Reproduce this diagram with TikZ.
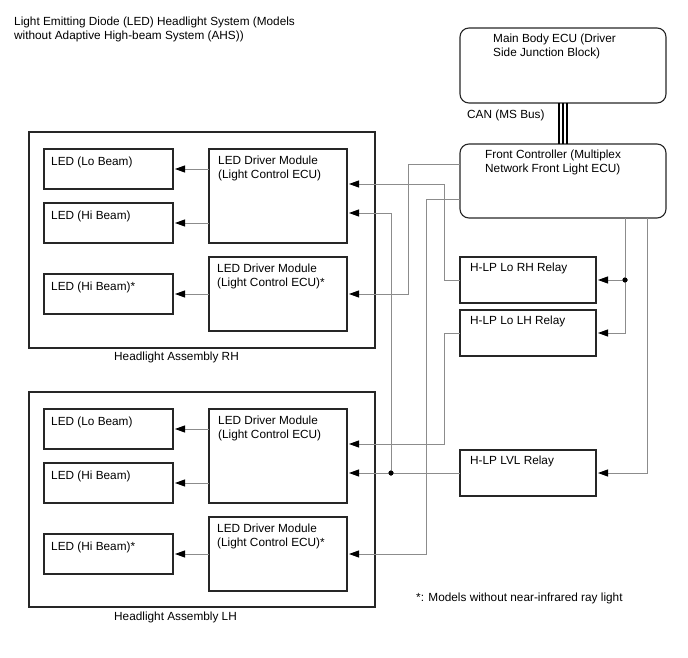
\documentclass[tikz,border=0pt]{standalone}
\usepackage{fontspec}
\setmainfont{Liberation Sans}
\usetikzlibrary{arrows.meta}
\begin{document}
\begin{tikzpicture}[x=1pt,y=-1pt,
  box/.style={draw=black!85, line width=1.1pt, inner sep=0pt, outer sep=0pt, anchor=north west},
  rbox/.style={box, rounded corners=9pt},
  txt/.style={anchor=north west, inner sep=0pt, align=left, font=\fontsize{11.8}{13.8}\selectfont},
  wire/.style={draw=black!45, line width=0.9pt},
  arr/.style={-{Triangle[length=10pt,width=7pt,color=black]}, shorten >=2pt},
  canl/.style={draw=black, line width=1.3pt},
  dot/.style={circle, fill=black, inner sep=0pt, minimum size=5pt}
]
\useasboundingbox (0,0) rectangle (688,658);

% title
\node[txt] (title) at (14,17) {Light Emitting Diode (LED) Headlight System (Models\\without Adaptive High-beam System (AHS))};

% ECUs
\node[rbox, minimum width=206pt, minimum height=75pt] (main) at (460,28) {};
\node[rbox, minimum width=206pt, minimum height=74pt] (fc) at (460,144) {};
\node[txt] (tmain) at ([xshift=33pt,yshift=-6pt]main.north west) {Main Body ECU (Driver\\Side Junction Block)};
\node[txt] (tfc) at ([xshift=25pt,yshift=-6pt]fc.north west) {Front Controller (Multiplex\\Network Front Light ECU)};
\node[txt] (tcan) at (467,110) {CAN (MS Bus)};

% relays
\node[box, minimum width=136pt, minimum height=46pt] (lorh) at (460,257) {};
\node[box, minimum width=136pt, minimum height=46pt] (lolh) at (460,310) {};
\node[box, minimum width=136pt, minimum height=46pt] (lvl) at (460,450) {};
\node[txt] (tlorh) at ([xshift=10pt,yshift=-6pt]lorh.north west) {H-LP Lo RH Relay};
\node[txt] (tlolh) at ([xshift=10pt,yshift=-6pt]lolh.north west) {H-LP Lo LH Relay};
\node[txt] (tlvl) at ([xshift=10pt,yshift=-6pt]lvl.north west) {H-LP LVL Relay};

% headlight assembly RH
\node[box, minimum width=346pt, minimum height=216pt] (rha) at (29,132) {};
\node[box, minimum width=129pt, minimum height=40pt] (rlo) at (44,149) {};
\node[box, minimum width=129pt, minimum height=40pt] (rhi) at (44,203) {};
\node[box, minimum width=129pt, minimum height=40pt] (rhis) at (44,274) {};
\node[box, minimum width=138pt, minimum height=94pt] (rd1) at (209,149) {};
\node[box, minimum width=138pt, minimum height=74pt] (rd2) at (209,257) {};
\node[txt] (trlo) at ([xshift=7pt,yshift=-8pt]rlo.north west) {LED (Lo Beam)};
\node[txt] (trhi) at ([xshift=7pt,yshift=-8pt]rhi.north west) {LED (Hi Beam)};
\node[txt] (trhis) at ([xshift=7pt,yshift=-8pt]rhis.north west) {LED (Hi Beam)*};
\node[txt] (trd1) at ([xshift=9pt,yshift=-7pt]rd1.north west) {LED Driver Module\\(Light Control ECU)};
\node[txt] (trd2) at ([xshift=8pt,yshift=-7pt]rd2.north west) {LED Driver Module\\(Light Control ECU)*};
\node[txt] (trha) at (114,352) {Headlight Assembly RH};

% headlight assembly LH
\node[box, minimum width=346pt, minimum height=215pt] (lha) at (29,392) {};
\node[box, minimum width=129pt, minimum height=40pt] (llo) at (44,409) {};
\node[box, minimum width=129pt, minimum height=40pt] (lhi) at (44,463) {};
\node[box, minimum width=129pt, minimum height=40pt] (lhis) at (44,534) {};
\node[box, minimum width=138pt, minimum height=94pt] (ld1) at (209,409) {};
\node[box, minimum width=138pt, minimum height=74pt] (ld2) at (209,517) {};
\node[txt] (tllo) at ([xshift=7pt,yshift=-8pt]llo.north west) {LED (Lo Beam)};
\node[txt] (tlhi) at ([xshift=7pt,yshift=-8pt]lhi.north west) {LED (Hi Beam)};
\node[txt] (tlhis) at ([xshift=7pt,yshift=-8pt]lhis.north west) {LED (Hi Beam)*};
\node[txt] (tld1) at ([xshift=9pt,yshift=-7pt]ld1.north west) {LED Driver Module\\(Light Control ECU)};
\node[txt] (tld2) at ([xshift=8pt,yshift=-7pt]ld2.north west) {LED Driver Module\\(Light Control ECU)*};
\node[txt] (tlha) at (114,612) {Headlight Assembly LH};

\node[txt] (foot) at (416,593) {*: Models without near-infrared ray light};

% CAN bus
\draw[canl] ([xshift=-4pt]main.south) -- ([xshift=-4pt]main.south |- fc.north);
\draw[canl] (main.south) -- (fc.north);
\draw[canl] ([xshift=4pt]main.south) -- ([xshift=4pt]main.south |- fc.north);

% internal arrows
\draw[wire,arr] (rd1.west |- rlo.east) -- (rlo.east);
\draw[wire,arr] (rd1.west |- rhi.east) -- (rhi.east);
\draw[wire,arr] (rd2.west |- rhis.east) -- (rhis.east);
\draw[wire,arr] (ld1.west |- llo.east) -- (llo.east);
\draw[wire,arr] (ld1.west |- lhi.east) -- (lhi.east);
\draw[wire,arr] (ld2.west |- lhis.east) -- (lhis.east);

% junctions
\node[dot] (j1) at (391,473) {};
\node[dot] (j2) at (625,280) {};
\coordinate (g) at (647,0);

% wiring
\draw[wire,arr] ([yshift=-20pt]fc.north west) -| (408,294) -- (rd2.east);
\draw[wire,arr] ([yshift=-55pt]fc.north west) -| (426,554) -- (ld2.east);
\draw[wire,arr] (lorh.west) -| (444,184) -- ([yshift=-35pt]rd1.north east);
\draw[wire,arr] (lolh.west) -| (444,444) -- ([yshift=-35pt]ld1.north east);
\draw[wire,arr] (lvl.west) -- ([yshift=-64pt]ld1.north east);
\draw[wire,arr] (j1.center) |- ([yshift=-64pt]rd1.north east);
\draw[wire] (fc.south -| j2) -- (j2.center);
\draw[wire,arr] (j2.center) -- (lorh.east);
\draw[wire,arr] (j2.center) |- (lolh.east);
\draw[wire,arr] (fc.south -| g) |- (lvl.east);
\node[dot] at (j1) {};
\node[dot] at (j2) {};
\end{tikzpicture}
\end{document}
